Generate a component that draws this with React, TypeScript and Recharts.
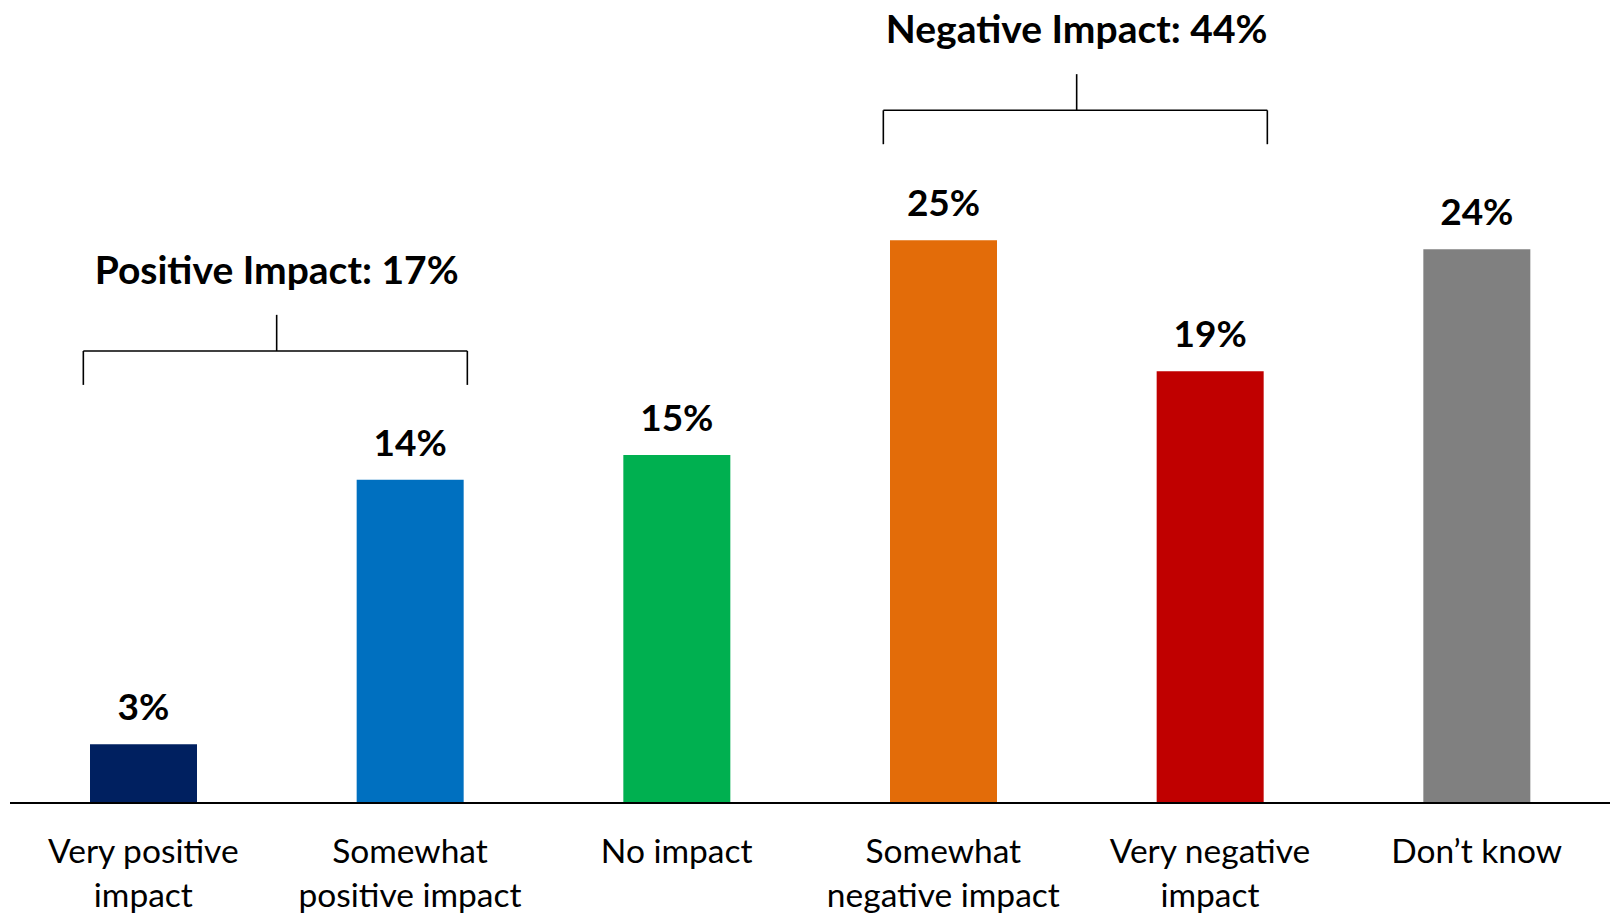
import React from 'react';
import { BarChart, Bar, XAxis, YAxis, Cell, LabelList, ReferenceLine } from 'recharts';

const categories = [
  'Very positive impact',
  'Somewhat positive impact',
  'No impact',
  'Somewhat negative impact',
  'Very negative impact',
  'Don\u2019t know',
];
const tickLines = [
  ['Very positive', 'impact'],
  ['Somewhat', 'positive impact'],
  ['No impact'],
  ['Somewhat', 'negative impact'],
  ['Very negative', 'impact'],
  ['Don\u2019t know'],
];
const values = [2.6, 14.3, 15.4, 24.9, 19.1, 24.5];
const valueLabels = ['3%', '14%', '15%', '25%', '19%', '24%'];
const colors = ['#002060', '#0070C0', '#00B050', '#E36C09', '#C00000', '#808080'];

// Bracket groups: from first index to last index, with summary label
const groupTitles = ['Positive Impact: 17%', 'Negative Impact: 44%'];
const groupRanges = [[0, 1], [3, 4]];
const groupLevels = [
  { ends: 18.5, bar: 20.0, stem: 21.6 },
  { ends: 29.15, bar: 30.65, stem: 32.25 },
];

const data = categories.map((c, i) => ({ name: c, value: values[i], idx: i }));

const FONT = 'Lato, "Open Sans", sans-serif';
const W = 1613;
const H = 923;

const CategoryTick = (props: any) => {
  const { x, y, index } = props;
  const lines = tickLines[index] || [];
  return (
    <g>
      {lines.map((l: string, i: number) => (
        <text
          key={i}
          x={x}
          y={y + 60 + i * 44}
          textAnchor="middle"
          fontFamily={FONT}
          fontSize={33.5}
          fill="#000"
        >
          {l}
        </text>
      ))}
    </g>
  );
};

const ValueLabel = (props: any) => {
  const { x, y, width, index } = props;
  return (
    <text
      x={x + width / 2}
      y={y - 24}
      textAnchor="middle"
      fontFamily={FONT}
      fontSize={37}
      fontWeight={700}
      fill="#000"
    >
      {valueLabels[index]}
    </text>
  );
};

export default function App() {
  const lineStyle = { stroke: '#000', strokeWidth: 1.6 };
  return (
    <div style={{ position: 'absolute', left: 0, top: 0, width: W, height: H, background: '#fff' }}>
      <BarChart
        width={W}
        height={H}
        data={data}
        margin={{ top: 12, right: 3, bottom: 10, left: 10 }}
        barCategoryGap="20%"
      >
        <XAxis
          dataKey="name"
          xAxisId={0}
          height={110}
          tickLine={false}
          tickSize={0}
          tickMargin={0}
          interval={0}
          axisLine={{ stroke: '#000', strokeWidth: 2 }}
          tick={<CategoryTick />}
        />
        <XAxis
          xAxisId="num"
          dataKey="idx"
          type="number"
          domain={[-0.5, 5.5]}
          hide
          allowDataOverflow
        />
        <YAxis hide domain={[0, 35]} allowDataOverflow />
        <Bar dataKey="value" xAxisId={0} barSize={107} isAnimationActive={false}>
          {data.map((d, i) => (
            <Cell key={i} fill={colors[i]} />
          ))}
          <LabelList dataKey="value" content={<ValueLabel />} />
        </Bar>
        {groupRanges.map((r, g) => {
          const left = r[0] - 0.225;
          const right = r[1] + 0.215;
          const mid = (r[0] + r[1]) / 2;
          const lv = groupLevels[g];
          return (
            <React.Fragment key={g}>
              <ReferenceLine
                xAxisId="num"
                segment={[{ x: left, y: lv.bar }, { x: right, y: lv.bar }]}
                {...lineStyle}
              />
              <ReferenceLine
                xAxisId="num"
                segment={[{ x: left, y: lv.ends }, { x: left, y: lv.bar }]}
                {...lineStyle}
              />
              <ReferenceLine
                xAxisId="num"
                segment={[{ x: right, y: lv.ends }, { x: right, y: lv.bar }]}
                {...lineStyle}
              />
              <ReferenceLine
                xAxisId="num"
                segment={[{ x: mid, y: lv.bar }, { x: mid, y: lv.stem }]}
                {...lineStyle}
                label={{
                  value: groupTitles[g],
                  position: 'top',
                  offset: 31,
                  fill: '#000',
                  fontSize: 39,
                  fontWeight: 700,
                  fontFamily: FONT,
                }}
              />
            </React.Fragment>
          );
        })}
      </BarChart>
    </div>
  );
}
